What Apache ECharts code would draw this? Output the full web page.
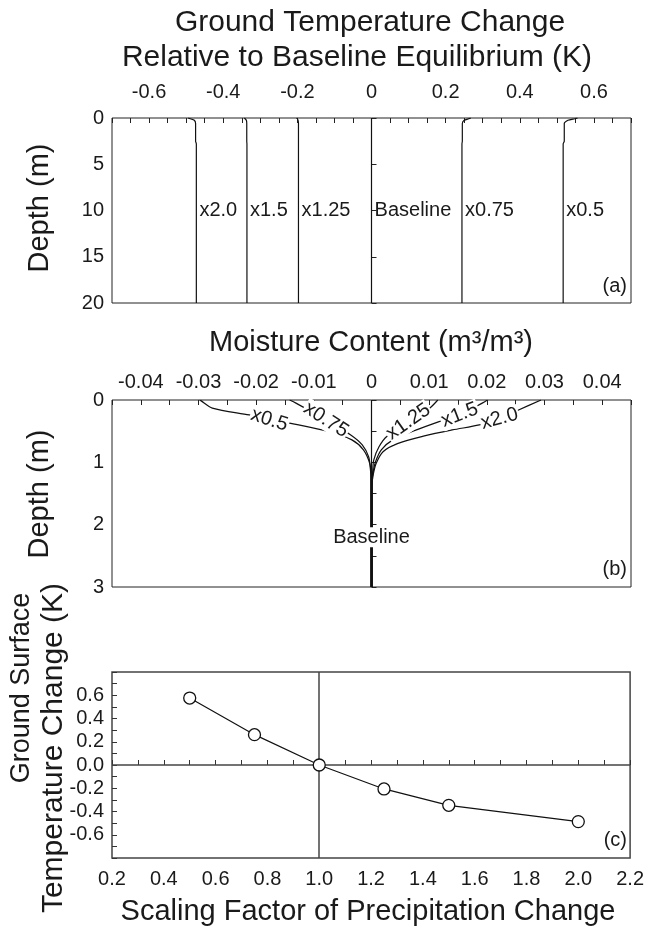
<!DOCTYPE html>
<html>
<head>
<meta charset="utf-8">
<script src="https://cdn.jsdelivr.net/npm/echarts@6/dist/echarts.min.js"></script>
<style>
html,body{margin:0;padding:0;background:#fff;}
#main{width:647px;height:933px;}
</style>
</head>
<body>
<div id="main"></div>
<script>
// ---------- Panel (a): ground temperature change vs depth ----------
const aNames = ['x2.0', 'x1.5', 'x1.25', 'Baseline', 'x0.75', 'x0.5'];
const aDepth = [0, 0.08, 0.25, 0.6, 2.5, 2.8, 20];
const aT_x20 = [-0.495, -0.489, -0.478, -0.4745, -0.4745, -0.4725, -0.4725];
const aT_x15 = [-0.343, -0.341, -0.3375, -0.3365, -0.3365, -0.336, -0.336];
const aT_x125 = [-0.202, -0.200, -0.198, -0.197, -0.197, -0.197, -0.197];
const aT_base = [0, 0, 0, 0, 0, 0, 0];
const aT_x075 = [0.268, 0.262, 0.250, 0.245, 0.245, 0.244, 0.244];
const aT_x05 = [0.556, 0.548, 0.530, 0.520, 0.520, 0.517, 0.517];
const aLabelDepth = 10;

// ---------- Panel (b): moisture content vs depth ----------
const bD_x05 = [0, 0.01, 0.13, 0.24, 0.37, 0.51, 0.64, 0.80, 1.02, 1.2, 3.0];
const bV_x05 = [-0.0298, -0.0296, -0.0276, -0.0212, -0.0142, -0.0073, -0.0034, -0.0014, -0.0003, -0.0001, -0.0001];
const bD_x075 = [0, 0.05, 0.32, 0.56, 0.72, 0.91, 1.1, 1.25, 3.0];
const bV_x075 = [-0.0142, -0.0131, -0.0079, -0.0036, -0.0016, -0.0005, -0.0002, -0.0001, -0.0001];
const bD_x125 = [0, 0.14, 0.35, 0.58, 0.75, 0.96, 1.15, 1.3, 3.0];
const bV_x125 = [0.0115, 0.0100, 0.0068, 0.0027, 0.0013, 0.0004, 0.0002, 0.0001, 0.0001];
const bD_x15 = [0, 0.05, 0.24, 0.35, 0.48, 0.64, 0.80, 0.99, 1.15, 1.3, 3.0];
const bV_x15 = [0.0201, 0.0192, 0.0153, 0.0116, 0.0078, 0.0037, 0.0017, 0.0007, 0.0003, 0.0001, 0.0001];
const bD_x20 = [0, 0.16, 0.30, 0.40, 0.48, 0.58, 0.70, 0.83, 1.02, 1.2, 1.35, 3.0];
const bV_x20 = [0.0294, 0.0255, 0.0222, 0.0187, 0.0140, 0.0090, 0.0045, 0.0020, 0.0008, 0.0003, 0.0001, 0.0001];
const bD_base = [0, 3.0];
const bV_base = [0, 0];
// inline label positions
const bLabelNames = ['x0.5', 'x0.75', 'x1.25', 'x1.5', 'x2.0', 'Baseline'];
const bLabelV = [-0.0177, -0.0079, 0.0064, 0.0153, 0.0222, 0];
const bLabelD = [0.32, 0.32, 0.35, 0.24, 0.30, 2.2];
const bLabelRot = [-18, -33, 35, 21, 15, 0];

// ---------- Panel (c): ground surface temperature change ----------
const cScale = [0.5, 0.75, 1.0, 1.25, 1.5, 2.0];
const cDT = [0.576, 0.261, 0.0, -0.206, -0.347, -0.487];

const FONT = 'Liberation Sans, Arial, Helvetica, sans-serif';
const TXT = '#1a1a1a';
const pair = (xs, ys) => xs.map((x, i) => [x, ys[i]]);

const fmtA = v => { const r = Math.round(v * 100); if (r % 20 !== 0 || Math.abs(r) > 60) return ''; return r === 0 ? '0' : (r / 100).toFixed(1); };
const fmtB = v => { const r = Math.round(v * 1000); if (r % 10 !== 0 || Math.abs(r) > 40) return ''; return r === 0 ? '0' : (r / 1000).toFixed(2); };
const fmtCx = v => { const r = Math.round(v * 10); if (r % 2 !== 0) return ''; return (r / 10).toFixed(1); };
const fmtCy = v => { const r = Math.round(v * 10); if (r % 2 !== 0 || Math.abs(r) > 6) return ''; return (r / 10).toFixed(1); };

const lbl = (fs) => ({ fontFamily: FONT, fontSize: fs, color: TXT, textBorderWidth: 0 });

const chart = echarts.init(document.getElementById('main'), null, { renderer: 'canvas' });

const aLine = (name, vals) => ({
  name, type: 'line', xAxisIndex: 0, yAxisIndex: 0, data: pair(vals, aDepth),
  showSymbol: false, symbol: 'none', smooth: 0.2, lineStyle: { color: '#111', width: 1.2 }, animation: false
});
const bLine = (name, vals, depths) => ({
  name, type: 'line', xAxisIndex: 1, yAxisIndex: 1, data: pair(vals, depths),
  showSymbol: false, symbol: 'none', smooth: 0.3, lineStyle: { color: '#111', width: 1.2 }, animation: false
});

const aDeep = [aT_x20, aT_x15, aT_x125, aT_base, aT_x075, aT_x05].map(a => a[a.length - 1]);

const option = {
  backgroundColor: '#fff',
  animation: false,
  grid: [
    { left: 112, top: 118, width: 519, height: 185, show: true, borderColor: '#222', borderWidth: 1 },
    { left: 112, top: 400, width: 519, height: 187, show: true, borderColor: '#222', borderWidth: 1 },
    { left: 112, top: 672, width: 519, height: 186, show: true, borderColor: '#444', borderWidth: 1.5 }
  ],
  xAxis: [
    { type: 'value', gridIndex: 0, position: 'top', min: -0.7, max: 0.7, interval: 0.05,
      splitLine: { show: false }, axisLine: { show: false },
      axisTick: { show: true, inside: true, length: 5, lineStyle: { color: '#222' } },
      axisLabel: Object.assign({ formatter: fmtA, margin: 16, hideOverlap: false }, lbl(20)) },
    { type: 'value', gridIndex: 1, position: 'top', min: -0.045, max: 0.045, interval: 0.005,
      splitLine: { show: false }, axisLine: { show: false },
      axisTick: { show: true, inside: true, length: 5, lineStyle: { color: '#222' } },
      axisLabel: Object.assign({ formatter: fmtB, margin: 8, hideOverlap: false }, lbl(20)) },
    { type: 'value', gridIndex: 2, position: 'bottom', min: 0.2, max: 2.2, interval: 0.1,
      splitLine: { show: false }, axisLine: { show: false },
      axisTick: { show: true, inside: true, length: 5, lineStyle: { color: '#333' } },
      axisLabel: Object.assign({ formatter: fmtCx, margin: 11, hideOverlap: false }, lbl(20)) }
  ],
  yAxis: [
    { type: 'value', gridIndex: 0, inverse: true, min: 0, max: 20, interval: 5,
      splitLine: { show: false }, axisLine: { show: false },
      axisTick: { show: true, inside: true, length: 5, lineStyle: { color: '#222' } },
      axisLabel: Object.assign({ margin: 8, hideOverlap: false }, lbl(20)) },
    { type: 'value', gridIndex: 1, inverse: true, min: 0, max: 3, interval: 0.5,
      splitLine: { show: false }, axisLine: { show: false },
      axisTick: { show: true, inside: true, length: 5, lineStyle: { color: '#222' } },
      axisLabel: Object.assign({ margin: 8, hideOverlap: false, formatter: v => (Math.abs(v - Math.round(v)) < 1e-6 ? String(Math.round(v)) : '') }, lbl(20)) },
    { type: 'value', gridIndex: 2, min: -0.8, max: 0.8, interval: 0.1,
      splitLine: { show: false }, axisLine: { show: false },
      axisTick: { show: true, inside: true, length: 5, lineStyle: { color: '#333' } },
      axisLabel: Object.assign({ margin: 8, hideOverlap: false, formatter: fmtCy }, lbl(20)) }
  ],
  series: [
    aLine('x2.0', aT_x20), aLine('x1.5', aT_x15), aLine('x1.25', aT_x125),
    aLine('Baseline', aT_base), aLine('x0.75', aT_x075), aLine('x0.5', aT_x05),
    { name: 'a-labels', type: 'scatter', xAxisIndex: 0, yAxisIndex: 0, symbolSize: 0.1, silent: true,
      itemStyle: { color: '#000', opacity: 1 },
      data: aNames.map((n, i) => ({ value: [aDeep[i], aLabelDepth], name: n })),
      label: Object.assign({ show: true, position: 'right', distance: 3, formatter: p => p.name }, lbl(20)) },

    bLine('x0.5', bV_x05, bD_x05), bLine('x0.75', bV_x075, bD_x075), bLine('x1.25', bV_x125, bD_x125),
    bLine('x1.5', bV_x15, bD_x15), bLine('x2.0', bV_x20, bD_x20), bLine('Baseline', bV_base, bD_base),
    { name: 'b-labels', type: 'scatter', xAxisIndex: 1, yAxisIndex: 1, symbolSize: 0.1, silent: true, z: 5,
      itemStyle: { color: '#000', opacity: 1 },
      data: bLabelNames.map((n, i) => ({ value: [bLabelV[i], bLabelD[i]], name: n,
        label: { rotate: bLabelRot[i] } })),
      label: Object.assign({ show: true, position: 'inside', formatter: p => p.name,
        backgroundColor: '#fff', padding: [0, 1] }, lbl(20)) },

    { name: 'dT', type: 'line', xAxisIndex: 2, yAxisIndex: 2, data: pair(cScale, cDT),
      symbol: 'circle', symbolSize: 12, showSymbol: true, z: 5,
      itemStyle: { color: '#fff', borderColor: '#111', borderWidth: 1.3 },
      lineStyle: { color: '#111', width: 1.2 },
      markLine: { silent: true, symbol: 'none', label: { show: false }, z: 1,
        lineStyle: { color: '#444', width: 1.5, type: 'solid' },
        data: [{ xAxis: 1.0 }, { yAxis: 0 }] } }
  ],
  graphic: [
    { type: 'text', x: 370, y: 23, style: { text: 'Ground Temperature Change', font: '30px ' + FONT, fill: TXT, textAlign: 'center', textVerticalAlign: 'middle' } },
    { type: 'text', x: 357, y: 58, style: { text: 'Relative to Baseline Equilibrium (K)', font: '30px ' + FONT, fill: TXT, textAlign: 'center', textVerticalAlign: 'middle' } },
    { type: 'text', x: 371, y: 343, style: { text: 'Moisture Content (m\u00B3/m\u00B3)', font: '29px ' + FONT, fill: TXT, textAlign: 'center', textVerticalAlign: 'middle' } },
    { type: 'text', x: 40, y: 208, rotation: Math.PI / 2, style: { text: 'Depth (m)', font: '29px ' + FONT, fill: TXT, textAlign: 'center', textVerticalAlign: 'middle' } },
    { type: 'text', x: 40, y: 494, rotation: Math.PI / 2, style: { text: 'Depth (m)', font: '29px ' + FONT, fill: TXT, textAlign: 'center', textVerticalAlign: 'middle' } },
    { type: 'text', x: 22, y: 688, rotation: Math.PI / 2, style: { text: 'Ground Surface', font: '27px ' + FONT, fill: TXT, textAlign: 'center', textVerticalAlign: 'middle' } },
    { type: 'text', x: 54, y: 748, rotation: Math.PI / 2, style: { text: 'Temperature Change (K)', font: '30px ' + FONT, fill: TXT, textAlign: 'center', textVerticalAlign: 'middle' } },
    { type: 'text', x: 368, y: 912, style: { text: 'Scaling Factor of Precipitation Change', font: '29px ' + FONT, fill: TXT, textAlign: 'center', textVerticalAlign: 'middle' } },
    { type: 'text', x: 627, y: 286, style: { text: '(a)', font: '20px ' + FONT, fill: TXT, textAlign: 'right', textVerticalAlign: 'middle' } },
    { type: 'text', x: 627, y: 569, style: { text: '(b)', font: '20px ' + FONT, fill: TXT, textAlign: 'right', textVerticalAlign: 'middle' } },
    { type: 'text', x: 627, y: 840, style: { text: '(c)', font: '20px ' + FONT, fill: TXT, textAlign: 'right', textVerticalAlign: 'middle' } }
  ]
};
chart.setOption(option);
</script>
</body>
</html>
